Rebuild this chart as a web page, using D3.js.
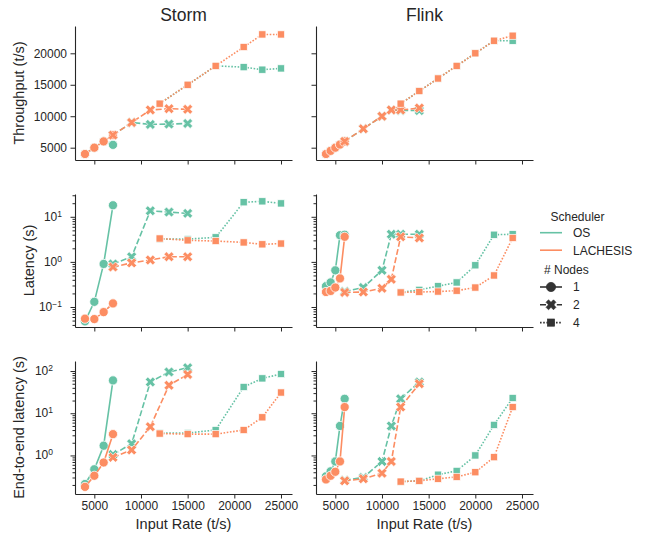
<!DOCTYPE html>
<html>
<head>
<meta charset="utf-8">
<script src="https://cdn.jsdelivr.net/npm/d3@7"></script>
<style>
  body { margin: 0; background: #fff; }
  svg { font-family: "Liberation Sans", Arial, sans-serif; }
</style>
</head>
<body>
<div id="chart"></div>
<script>
// systems, schedulers and node counts
const systems = ["Storm", "Flink"]
const schedulers = ["OS", "LACHESIS"]
const nodeCounts = [1, 2, 4]
const schedColors = ["#66c2a5", "#fc8d62"]

// input rates (t/s) for 1, 2 and 4 nodes
const stormRates = [[4000, 5000, 6000, 7000], [7000, 9000, 11000, 13000, 15000], [12000, 15000, 18000, 21000, 23000, 25000]]
const flinkRates = [[4000, 4500, 5000, 5500, 6000], [6000, 8000, 10000, 11000, 12000, 14000], [12000, 14000, 16000, 18000, 20000, 22000, 24000]]

// throughput (t/s)
const stormThroughputOS = [[4000, 5000, 6000, 5450], [7000, 9000, 8700, 8750, 8850], [12000, 15000, 18000, 17800, 17400, 17600]]
const stormThroughputLA = [[4000, 5000, 6000, 7000], [7000, 9000, 11000, 11200, 11100], [12000, 15000, 18000, 21000, 23000, 23000]]
const flinkThroughputOS = [[4000, 4500, 5000, 5500, 6000], [6000, 8000, 10000, 11000, 10900, 10900], [12000, 14000, 16000, 18000, 20000, 22000, 22000]]
const flinkThroughputLA = [[4000, 4500, 5000, 5500, 6000], [6000, 8000, 10000, 11000, 11000, 11300], [12000, 14000, 16000, 18000, 20000, 22000, 22800]]

// latency (s)
const stormLatencyOS = [[0.048, 0.13, 0.9, 18], [0.9, 1.3, 13.6, 12.7, 11.9], [3.2, 3.2, 3.5, 21, 22, 19.8]]
const stormLatencyLA = [[0.055, 0.054, 0.077, 0.12], [0.77, 0.95, 1.1, 1.3, 1.3], [3.3, 3.0, 2.9, 2.7, 2.45, 2.55]]
const flinkLatencyOS = [[0.29, 0.35, 0.65, 3.9, 4.0], [0.22, 0.27, 0.65, 4.1, 4.1, 4.1], [0.21, 0.24, 0.29, 0.35, 0.84, 4.0, 4.1]]
const flinkLatencyLA = [[0.215, 0.227, 0.27, 0.43, 3.6], [0.21, 0.215, 0.26, 0.41, 3.6, 3.4], [0.21, 0.215, 0.22, 0.23, 0.27, 0.5, 3.4]]

// end-to-end latency (s)
const stormE2eOS = [[0.21, 0.47, 1.7, 60], [1.05, 1.9, 55, 95, 120], [3.4, 3.4, 4.0, 42, 67, 85]]
const stormE2eLA = [[0.18, 0.33, 0.68, 3.2], [0.9, 1.35, 4.8, 46, 83], [3.3, 3.2, 3.2, 4.0, 8.0, 31]]
const flinkE2eOS = [[0.32, 0.42, 0.72, 5, 22], [0.26, 0.3, 0.72, 5, 22, 55], [0.24, 0.25, 0.35, 0.43, 1.0, 5.3, 23]]
const flinkE2eLA = [[0.27, 0.33, 0.41, 0.72, 14], [0.25, 0.28, 0.38, 0.72, 14, 50], [0.24, 0.25, 0.28, 0.31, 0.4, 0.91, 14]]

const xTicks = [5000, 10000, 15000, 20000, 25000]

// layout
const width = 647, height = 538
const colLeft = [75, 316], panelW = 217
const rowTop = [26, 194, 361], rowBottom = [160, 327, 494]
const ink = "#262626"

const rows = [
    { label: "Throughput (t/s)", log: false, domain: [3044, 24340], ticks: [5000, 10000, 15000, 20000], labelX: 23.5,
      data: [[stormThroughputOS, stormThroughputLA], [flinkThroughputOS, flinkThroughputLA]] },
    { label: "Latency (s)", log: true, domain: [0.036, 32], ticks: [0.1, 1, 10], labelX: 33.5, tickRight: 62,
      data: [[stormLatencyOS, stormLatencyLA], [flinkLatencyOS, flinkLatencyLA]] },
    { label: "End-to-end latency (s)", log: true, domain: [0.122, 173], ticks: [1, 10, 100], labelX: 23.5, tickRight: 53,
      data: [[stormE2eOS, stormE2eLA], [flinkE2eOS, flinkE2eLA]] }
]
const ratesBySystem = [stormRates, flinkRates]

const svg = d3.select("#chart").append("svg")
    .attr("width", width)
    .attr("height", height)

// marker shapes by node count
const dashes = [null, "6,2.4", "1.6,1.6"]
function drawMarker(sel, k, color, edge) {
    if (k === 0) {
        sel.append("circle").attr("r", 4.6).attr("fill", color).attr("stroke", edge).attr("stroke-width", 0.8)
    } else if (k === 1) {
        sel.append("path").attr("d", d3.symbol(d3.symbolCross, 62)()).attr("transform", "rotate(45)")
            .attr("fill", color).attr("stroke", edge).attr("stroke-width", 0.6)
    } else {
        sel.append("rect").attr("x", -3.6).attr("y", -3.6).attr("width", 7.2).attr("height", 7.2)
            .attr("fill", color).attr("stroke", edge).attr("stroke-width", 0.7)
    }
}

const x = d3.scaleLinear().domain([2930, 26180]).range([0, panelW])

function minorTicks(domain) {
    const out = []
    for (let e = Math.floor(Math.log10(domain[0])); e <= Math.ceil(Math.log10(domain[1])); e++) {
        for (let m = 2; m <= 9; m++) {
            const v = m * Math.pow(10, e)
            if (v >= domain[0] && v <= domain[1]) out.push(v)
        }
    }
    return out
}

rows.forEach(function(row, r) {
    const y = (row.log ? d3.scaleLog() : d3.scaleLinear())
        .domain(row.domain)
        .range([rowBottom[r], rowTop[r]])

    // y axis label
    svg.append("text")
        .attr("transform", "translate(" + row.labelX + "," + ((rowTop[r] + rowBottom[r]) / 2) + ") rotate(-90)")
        .attr("text-anchor", "middle")
        .style("font-size", "14.5px")
        .style("fill", ink)
        .text(row.label)

    systems.forEach(function(sys, c) {
        const g = svg.append("g").attr("transform", "translate(" + colLeft[c] + ",0)")

        if (r === 0) {
            g.append("text")
                .attr("x", panelW / 2)
                .attr("y", 21)
                .attr("text-anchor", "middle")
                .style("font-size", "17.5px")
                .style("fill", ink)
                .text(sys)
        }

        // x axis
        const xAxis = g.append("g")
            .attr("transform", "translate(0," + rowBottom[r] + ")")
            .call(d3.axisBottom(x).tickValues(xTicks).tickSize(4.5).tickSizeOuter(0).tickPadding(3)
                .tickFormat(d3.format("d")))
        if (r < 2 ) xAxis.selectAll("text").remove()

        // y axis
        const yAxis = g.append("g")
            .call(d3.axisLeft(y).tickValues(row.ticks).tickSize(4.5).tickSizeOuter(0).tickPadding(3.5)
                .tickFormat(row.log ? function() { return "" } : d3.format("d")))
        if (row.log) {
            g.append("g")
                .call(d3.axisLeft(y).tickValues(minorTicks(row.domain)).tickSize(2.5).tickFormat(""))
                .select(".domain").remove()
            if (c === 0) {
                row.ticks.forEach(function(t) {
                    const txt = g.append("text")
                        .attr("x", row.tickRight - colLeft[0])
                        .attr("y", y(t) + 4)
                        .attr("text-anchor", "end")
                        .style("font-size", "12px")
                        .style("fill", ink)
                    txt.append("tspan").text("10")
                    txt.append("tspan").attr("dy", "-0.5em").style("font-size", "8.5px")
                        .text(String(Math.round(Math.log10(t))).replace("-", "\u2212"))
                })
            }
        }
        if (c === 1) yAxis.selectAll("text").remove()

        ;[xAxis, yAxis].forEach(function(a) {
            a.selectAll(".domain").attr("stroke", ink).attr("stroke-width", 1.1)
            a.selectAll("line").attr("stroke", ink).attr("stroke-width", 1)
            a.selectAll("text").style("font-size", "12px").style("fill", ink).style("font-family", "Liberation Sans, Arial, sans-serif")
        })
        g.selectAll("g.tick line").attr("stroke", ink)

        // series
        schedulers.forEach(function(sched, s) {
            nodeCounts.forEach(function(n, k) {
                const rates = ratesBySystem[c][k]
                const vals = row.data[c][s][k]
                const pts = rates.map(function(rate, i) { return [rate, vals[i]] })
                const line = d3.line()
                    .x(function(d) { return x(d[0]) })
                    .y(function(d) { return y(d[1]) })
                g.append("path")
                    .datum(pts)
                    .attr("d", line)
                    .attr("fill", "none")
                    .attr("stroke", schedColors[s])
                    .attr("stroke-width", 1.6)
                    .attr("stroke-dasharray", dashes[k])
                pts.forEach(function(d) {
                    const m = g.append("g").attr("transform", "translate(" + x(d[0]) + "," + y(d[1]) + ")")
                    drawMarker(m, k, schedColors[s], "#fff")
                })
            })
        })

        // x axis label on bottom row
        if (r === 2) {
            g.append("text")
                .attr("x", panelW / 2)
                .attr("y", 529)
                .attr("text-anchor", "middle")
                .style("font-size", "14.5px")
                .style("fill", ink)
                .text("Input Rate (t/s)")
        }
    })
})

// legend
const legend = svg.append("g")
const legendText = function(tx, ty, label) {
    legend.append("text").attr("x", tx).attr("y", ty)
        .style("font-size", "12px").style("fill", ink).text(label)
}
legendText(550.5, 221, "Scheduler")
schedulers.forEach(function(sched, s) {
    const ly = 232.7 + s * 17.5
    legend.append("line").attr("x1", 540).attr("x2", 562).attr("y1", ly).attr("y2", ly)
        .attr("stroke", schedColors[s]).attr("stroke-width", 1.6)
    legendText(573, ly + 4.3, sched)
})
legendText(544, 273.5, "# Nodes")
nodeCounts.forEach(function(n, k) {
    const ly = 287 + k * 17.8
    legend.append("line").attr("x1", 540).attr("x2", 562).attr("y1", ly).attr("y2", ly)
        .attr("stroke", "#333").attr("stroke-width", 1.6).attr("stroke-dasharray", dashes[k])
    const m = legend.append("g").attr("transform", "translate(551," + ly + ")")
    drawMarker(m, k, "#333", "#333")
    legendText(573, ly + 4.3, String(n))
})
</script>
</body>
</html>
